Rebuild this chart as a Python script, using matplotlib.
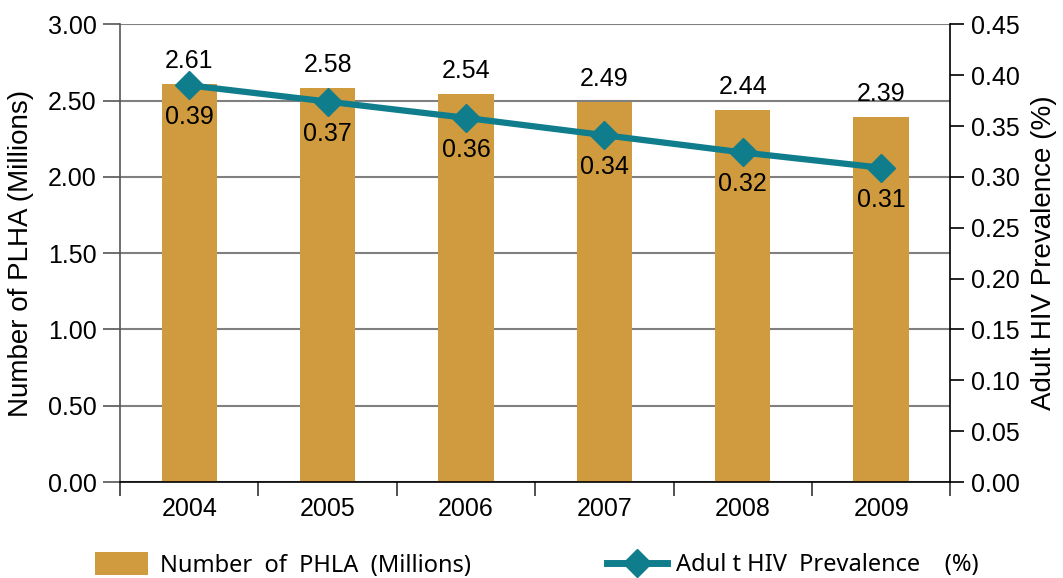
import numpy as np
import matplotlib.pyplot as plt
from matplotlib.lines import Line2D
from matplotlib.patches import Patch

# Data
years = ['2004', '2005', '2006', '2007', '2008', '2009']
plha_millions = [2.61, 2.58, 2.54, 2.49, 2.44, 2.39]
hiv_prevalence = [0.39, 0.374, 0.358, 0.341, 0.324, 0.309]
prevalence_labels = ['0.39', '0.37', '0.36', '0.34', '0.32', '0.31']
left_ticks = [0.0, 0.5, 1.0, 1.5, 2.0, 2.5, 3.0]
right_ticks = [0.0, 0.05, 0.10, 0.15, 0.20, 0.25, 0.30, 0.35, 0.40, 0.45]

BAR_COLOR = '#D09B3E'
LINE_COLOR = '#0F7D8C'
GRID_COLOR = '#808080'
FS = 18

plt.rcParams['font.family'] = ['Liberation Sans', 'DejaVu Sans']


def main():
    fig = plt.figure(figsize=(10.63, 5.78), dpi=100)
    ax = fig.add_axes([0.113, 0.166, 0.781, 0.792])
    x = np.arange(len(years))

    # Bars on the left axis
    ax.bar(x, plha_millions, width=0.4, color=BAR_COLOR, zorder=2)
    for xi, v in zip(x, plha_millions):
        ax.annotate(f'{v:.2f}', (xi, v), xytext=(0, 8), textcoords='offset points',
                    ha='center', va='bottom', fontsize=FS, zorder=5)

    ax.set_ylim(0, 3.0)
    ax.set_xlim(-0.5, len(years) - 0.5)
    ax.set_yticks(left_ticks)
    ax.set_yticklabels([f'{t:.2f}' for t in left_ticks])
    ax.yaxis.grid(True, color=GRID_COLOR, linewidth=1.5, zorder=0)
    ax.set_axisbelow(True)

    ax.set_xticks(np.arange(-0.5, len(years), 1))
    ax.set_xticklabels([])
    ax.set_xticks(x, minor=True)
    ax.set_xticklabels(years, minor=True)
    ax.tick_params(axis='x', which='major', length=10, width=1.2, color='#333333')
    ax.tick_params(axis='x', which='minor', length=0, pad=11, labelsize=FS)
    ax.tick_params(axis='y', length=12, width=1.2, color='#555555', labelsize=FS, pad=5)

    ax.spines['top'].set_visible(False)
    ax.spines['right'].set_visible(False)
    ax.spines['left'].set_color('#555555')
    ax.spines['left'].set_linewidth(1.2)
    ax.spines['bottom'].set_color('black')
    ax.spines['bottom'].set_linewidth(1.2)
    ax.set_ylabel('Number of PLHA (Millions)', fontsize=20, labelpad=10)

    # Prevalence line on the right axis
    ax2 = ax.twinx()
    ax2.plot(x, hiv_prevalence, color=LINE_COLOR, linewidth=4.5, marker='D',
             markersize=14, zorder=4)
    for xi, v, lab in zip(x, hiv_prevalence, prevalence_labels):
        ax2.annotate(lab, (xi, v), xytext=(0, -23), textcoords='offset points',
                     ha='center', va='center', fontsize=FS, zorder=5)
    ax2.set_ylim(0, 0.45)
    ax2.set_yticks(right_ticks)
    ax2.set_yticklabels([f'{t:.2f}' for t in right_ticks])
    ax2.tick_params(axis='y', length=10, width=1.2, color='black', labelsize=FS, pad=5)
    ax2.spines['top'].set_visible(False)
    ax2.spines['left'].set_visible(False)
    ax2.spines['bottom'].set_visible(False)
    ax2.spines['right'].set_color('black')
    ax2.spines['right'].set_linewidth(1.2)
    ax2.set_ylabel('Adult HIV Prevalence (%)', fontsize=20, labelpad=8)

    # Legends below the plot
    bar_handle = Patch(facecolor=BAR_COLOR, edgecolor='none')
    fig.legend([bar_handle], ['Number  of  PHLA  (Millions)'], loc='center left',
               bbox_to_anchor=(95 / 1063, 1 - 565 / 578), frameon=False, borderpad=0,
               borderaxespad=0, handlelength=2.25, handleheight=1.1, handletextpad=0.5,
               prop={'family': 'Noto Sans', 'size': 17})
    line_handle = Line2D([0], [0], color=LINE_COLOR, linewidth=5, marker='D', markersize=14)
    fig.legend([line_handle], ['Adul t HIV  Prevalence    (%)'], loc='center left',
               bbox_to_anchor=(607 / 1063, 1 - 565 / 578), frameon=False, borderpad=0,
               borderaxespad=0, handlelength=2.55, handletextpad=0.38,
               prop={'family': 'Noto Sans', 'size': 17})

    fig.savefig('out.png', dpi=100)


if __name__ == '__main__':
    main()
